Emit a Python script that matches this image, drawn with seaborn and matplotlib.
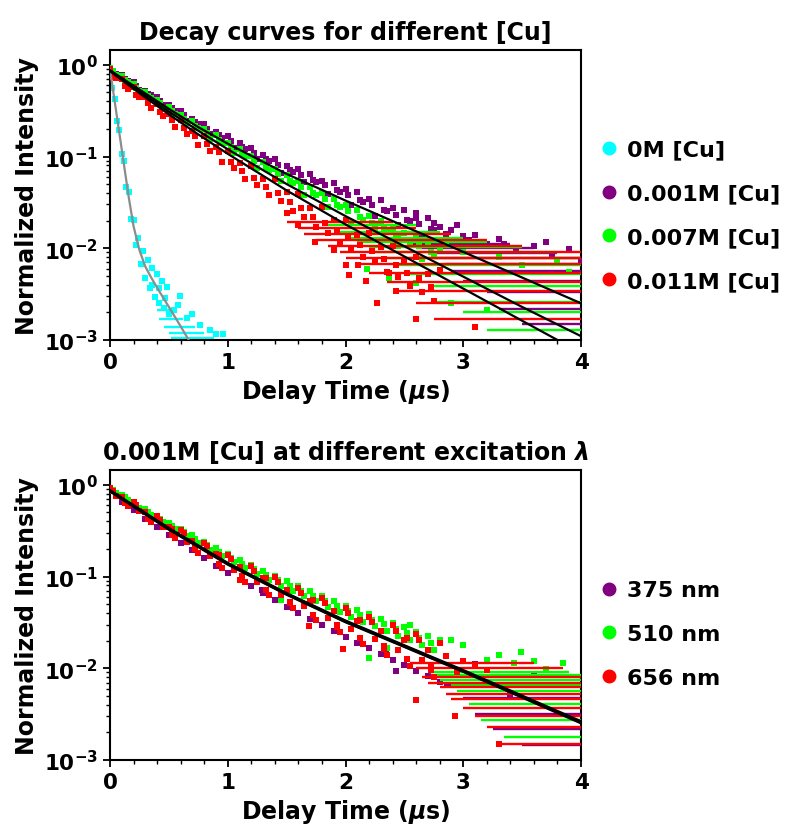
import matplotlib
matplotlib.use("Agg")
import matplotlib.pyplot as plt
import seaborn as sns
from matplotlib.lines import Line2D
from matplotlib.ticker import MultipleLocator, LogLocator, NullFormatter, FixedLocator, FixedFormatter

# ---------------- data ----------------
TIME_GRID = [0.00, 0.05, 0.10, 0.15, 0.20, 0.25, 0.30, 0.35, 0.40, 0.45, 0.50, 0.55, 0.60, 0.65,
             0.70, 0.75, 0.80, 0.85, 0.90, 0.95, 1.00, 1.05, 1.10, 1.15, 1.20, 1.25, 1.30, 1.35,
             1.40, 1.45, 1.50, 1.55, 1.60, 1.65, 1.70, 1.75, 1.80, 1.85, 1.90, 1.95, 2.00, 2.05,
             2.10, 2.15, 2.20, 2.25, 2.30, 2.35, 2.40, 2.45, 2.50, 2.55, 2.60, 2.65, 2.70, 2.75, 2.80]
MID_GRID = [0.025, 0.125, 0.225, 0.325, 0.425, 0.525, 0.625, 0.725, 0.825, 0.925, 1.025, 1.125,
            1.225, 1.325, 1.425, 1.525, 1.625, 1.725, 1.825, 1.925, 2.025, 2.125, 2.225, 2.325,
            2.425, 2.525, 2.625, 2.725]

# top panel: 0M [Cu]
CYAN_T = [0.00, 0.02, 0.04, 0.06, 0.08, 0.10, 0.12, 0.14, 0.16, 0.18, 0.20, 0.22, 0.24,
          0.26, 0.28, 0.30, 0.32, 0.34, 0.36, 0.38, 0.40, 0.42, 0.44, 0.46, 0.48, 0.50]
CYAN_I = [0.933, 0.556, 0.427, 0.243, 0.195, 0.106, 0.0891, 0.0462, 0.0407, 0.0207, 0.0204,
          0.0109, 0.0129, 0.00667, 0.00938, 0.00468, 0.00745, 0.00366, 0.00614, 0.00291,
          0.00525, 0.00256, 0.00443, 0.00221, 0.00382, 0.00191]
CYAN_X_T = [0.42, 0.54, 0.593, 0.65, 0.762, 0.85, 0.904, 0.96, 0.47, 0.58, 0.70, 0.36]
CYAN_X_I = [0.0037, 0.0021, 0.0030, 0.00174, 0.00147, 0.0013, 0.00117, 0.00117, 0.0029, 0.0024, 0.0019, 0.0040]
CYAN_LEVEL = [0.00105, 0.0012, 0.0014, 0.0017, 0.0021]
CYAN_START = [0.52, 0.50, 0.46, 0.42, 0.40]
CYAN_END = [0.88, 0.80, 0.72, 0.62, 0.56]

# top panel: 0.001M [Cu]
TOP_PURPLE = [0.912, 0.791, 0.769, 0.667, 0.649, 0.537, 0.522, 0.463, 0.451, 0.365, 0.363, 0.316,
              0.316, 0.245, 0.257, 0.224, 0.226, 0.177, 0.187, 0.161, 0.166, 0.125, 0.139, 0.121,
              0.125, 0.0944, 0.105, 0.0889, 0.0946, 0.0665, 0.0794, 0.0678, 0.0728, 0.0528, 0.0652,
              0.0531, 0.0545, 0.0386, 0.0511, 0.0406, 0.0437, 0.0296, 0.0411, 0.0321, 0.0345,
              0.0224, 0.0333, 0.0254, 0.0273, 0.0177, 0.0263, 0.0200, 0.0216, 0.0131, 0.0213,
              0.0158, 0.0171]
TOP_PURPLE_MID = [0.851, 0.706, 0.586, 0.486, 0.404, 0.336, 0.281, 0.236, 0.200, 0.171, 0.146,
                  0.126, 0.109, 0.0944, 0.0817, 0.0710, 0.0625, 0.0551, 0.0485, 0.0428, 0.0378,
                  0.0334, 0.0296, 0.0262, 0.0232, 0.0205, 0.0182, 0.0161]
TOP_PURPLE_X_T = [2.60, 2.75, 2.90, 2.95, 3.00, 3.10, 3.20, 3.30, 3.35, 3.45, 3.60, 3.70, 3.75, 3.90, 4.00, 2.85, 3.05]
TOP_PURPLE_X_I = [0.024, 0.019, 0.016, 0.018, 0.0135, 0.014, 0.0112, 0.0125, 0.0112, 0.0098, 0.0105,
                  0.0118, 0.0085, 0.0098, 0.0073, 0.0142, 0.0122]
TOP_PURPLE_LEVEL = [0.0111, 0.0100, 0.0089, 0.0078, 0.0067, 0.0056, 0.0044, 0.0033, 0.0022, 0.0015]
TOP_PURPLE_START = [2.55, 2.60, 2.70, 2.75, 2.85, 2.90, 3.00, 3.20, 3.30, 3.50]
TOP_PURPLE_END = [3.40, 3.60, 3.80, 4.00, 4.00, 4.00, 4.00, 4.00, 4.00, 4.00]

# top panel: 0.007M [Cu]
TOP_GREEN = [0.912, 0.783, 0.755, 0.649, 0.611, 0.513, 0.508, 0.439, 0.415, 0.334, 0.347, 0.294,
             0.286, 0.231, 0.241, 0.204, 0.200, 0.155, 0.170, 0.141, 0.141, 0.110, 0.121, 0.101,
             0.102, 0.0741, 0.0875, 0.0714, 0.0735, 0.0547, 0.0631, 0.0519, 0.0537, 0.0376, 0.0468,
             0.0376, 0.0398, 0.0285, 0.0347, 0.0279, 0.0295, 0.0194, 0.0259, 0.0205, 0.0223,
             0.0153, 0.0196, 0.0155, 0.0168, 0.0105, 0.0148, 0.0114, 0.0130, 0.0076, 0.0112,
             0.00861, 0.00982]
TOP_GREEN_MID = [0.847, 0.690, 0.562, 0.461, 0.379, 0.313, 0.259, 0.215, 0.180, 0.151, 0.126,
                 0.107, 0.0904, 0.0764, 0.0646, 0.0547, 0.0469, 0.0402, 0.0344, 0.0295, 0.0254,
                 0.0219, 0.0190, 0.0164, 0.0142, 0.0123, 0.0106, 0.00918]
TOP_GREEN_X_T = [2.05, 2.18, 2.37, 2.60, 2.90, 3.20, 3.30, 3.50, 3.80, 3.90, 2.25, 2.45, 2.85, 3.00]
TOP_GREEN_X_I = [0.0095, 0.0060, 0.0047, 0.0042, 0.0025, 0.0021, 0.0080, 0.0065, 0.0072, 0.0055,
                 0.0175, 0.0135, 0.0110, 0.0092]
TOP_GREEN_LEVEL = [0.0178, 0.0152, 0.0130, 0.0117, 0.0104, 0.0091, 0.0078, 0.0065, 0.0052, 0.0039, 0.0026, 0.0020, 0.0013]
TOP_GREEN_START = [1.85, 1.95, 2.05, 2.10, 2.20, 2.25, 2.35, 2.45, 2.55, 2.70, 2.75, 3.00, 3.20]
TOP_GREEN_END = [2.60, 2.80, 3.00, 3.20, 3.50, 3.80, 4.00, 4.00, 4.00, 4.00, 4.00, 4.00, 4.00]

# top panel: 0.011M [Cu]
TOP_RED = [0.891, 0.711, 0.698, 0.545, 0.573, 0.447, 0.441, 0.337, 0.373, 0.279, 0.288, 0.212,
           0.252, 0.177, 0.192, 0.135, 0.169, 0.114, 0.127, 0.0875, 0.115, 0.0741, 0.0851, 0.0575,
           0.0794, 0.0490, 0.0575, 0.0380, 0.0562, 0.0324, 0.0407, 0.0253, 0.0394, 0.0218, 0.0277,
           0.0172, 0.0281, 0.0148, 0.0201, 0.0117, 0.0204, 0.0101, 0.0138, 0.00804, 0.0148,
           0.00700, 0.0102, 0.00556, 0.0107, 0.00484, 0.00708, 0.00385, 0.00794, 0.00335,
           0.00525, 0.00266, 0.00575]
TOP_RED_X_T = [1.025, 1.125, 1.225, 1.325, 1.425, 1.525, 1.625, 1.725, 1.825, 1.925, 2.025, 2.125,
               2.225, 2.325, 2.425, 2.525, 2.625, 2.725, 1.50, 1.60, 1.74, 1.90, 2.00, 2.03, 2.11,
               2.17, 2.27, 2.37, 2.43, 2.60, 3.10,
               0.025, 0.125, 0.225, 0.325, 0.425, 0.525, 0.625, 0.725, 0.825, 0.925]
TOP_RED_X_I = [0.0871, 0.0692, 0.0589, 0.0468, 0.0398, 0.0317, 0.0274, 0.0220, 0.0190, 0.0153,
               0.0132, 0.0108, 0.00938, 0.00762, 0.00664, 0.00540, 0.00470, 0.00382, 0.024, 0.018,
               0.0118, 0.0095, 0.0066, 0.0051, 0.0066, 0.0044, 0.0025, 0.0054, 0.0034, 0.0017, 0.0014,
               0.735, 0.589, 0.472, 0.381, 0.308, 0.250, 0.204, 0.167, 0.137, 0.113]
TOP_RED_LEVEL = [0.0195, 0.0165, 0.0142, 0.0123, 0.0107, 0.0092, 0.0079, 0.0067, 0.0054, 0.0043, 0.0034, 0.0025, 0.0017]
TOP_RED_START = [1.50, 1.60, 1.65, 1.75, 1.85, 1.95, 2.00, 2.10, 2.20, 2.35, 2.45, 2.60, 2.75]
TOP_RED_END = [2.40, 2.60, 2.90, 3.20, 3.50, 4.00, 4.00, 4.00, 4.00, 4.00, 4.00, 4.00, 4.00]

# fitted curves (top)
CYAN_FIT_T = [0.0, 0.04, 0.08, 0.12, 0.16, 0.20, 0.25, 0.30, 0.35, 0.40, 0.50, 0.60, 0.70]
CYAN_FIT_I = [0.891, 0.398, 0.178, 0.0794, 0.0355, 0.0174, 0.00955, 0.00631, 0.00479, 0.00372,
              0.00229, 0.00141, 0.000851]
FIT_T = [0.0, 0.25, 0.5, 0.75, 1.0, 1.5, 2.0, 2.5, 3.0, 3.5, 4.0]
FIT_PURPLE = [0.871, 0.537, 0.331, 0.209, 0.138, 0.0646, 0.0331, 0.0174, 0.00912, 0.00479, 0.00251]
FIT_GREEN = [0.871, 0.513, 0.309, 0.191, 0.120, 0.0501, 0.0224, 0.0105, 0.00490, 0.00229, 0.00110]
FIT_RED = [0.851, 0.490, 0.288, 0.174, 0.107, 0.0427, 0.0182, 0.00813, 0.00363, 0.00162, 0.000724]

# bottom panel: 375 nm
BOT_PURPLE_T = [0.1, 0.2, 0.3, 0.4, 0.5, 0.6, 0.7, 0.8, 0.9, 1.0, 1.1, 1.2, 1.3, 1.4, 1.5, 1.6,
                1.7, 1.8, 1.9, 2.0, 2.1, 2.2, 2.3, 2.4, 2.5, 2.6, 2.7, 2.8,
                1.29, 2.34, 2.43, 2.86, 3.40, 3.10, 3.60]
BOT_PURPLE_I = [0.649, 0.530, 0.428, 0.349, 0.282, 0.234, 0.194, 0.159, 0.132, 0.110, 0.0920,
                0.0782, 0.0656, 0.0557, 0.0468, 0.0403, 0.0347, 0.0295, 0.0254, 0.0219, 0.0189,
                0.0165, 0.0144, 0.0124, 0.0108, 0.00946, 0.00817, 0.00713,
                0.071, 0.0152, 0.0093, 0.0066, 0.0052, 0.0110, 0.0085]
BOT_PURPLE_LEVEL = [0.0066, 0.0047, 0.0032, 0.0022, 0.00145]
BOT_PURPLE_START = [2.85, 3.00, 3.10, 3.25, 3.50]
BOT_PURPLE_END = [4.00, 4.00, 4.00, 4.00, 4.00]

# bottom panel: 510 nm
BOT_GREEN = [0.933, 0.813, 0.782, 0.676, 0.656, 0.562, 0.551, 0.468, 0.462, 0.389, 0.388, 0.327,
             0.331, 0.276, 0.282, 0.233, 0.241, 0.197, 0.206, 0.167, 0.175, 0.143, 0.153, 0.123,
             0.133, 0.107, 0.116, 0.0923, 0.102, 0.0798, 0.0887, 0.0695, 0.0785, 0.0610, 0.0695,
             0.0535, 0.0615, 0.0469, 0.0545, 0.0411, 0.0482, 0.0363, 0.0432, 0.0323, 0.0387,
             0.0287, 0.0348, 0.0255, 0.0312, 0.0227, 0.0280, 0.0202, 0.0251, 0.0179, 0.0225,
             0.0160, 0.0202]
BOT_GREEN_MID = [0.873, 0.729, 0.610, 0.509, 0.426, 0.357, 0.303, 0.258, 0.219, 0.186, 0.159,
                 0.138, 0.120, 0.104, 0.0906, 0.0791, 0.0697, 0.0614, 0.0542, 0.0478, 0.0422,
                 0.0377, 0.0337, 0.0301, 0.0269, 0.0240, 0.0214, 0.0191]
BOT_GREEN_X_T = [2.20, 2.55, 3.00, 3.20, 3.43, 3.49, 3.60, 3.85, 3.70, 2.90, 3.30, 1.45, 2.35]
BOT_GREEN_X_I = [0.0129, 0.0295, 0.0179, 0.0122, 0.0113, 0.0152, 0.0120, 0.0113, 0.0098, 0.0205,
                 0.0140, 0.056, 0.0165]
BOT_GREEN_LEVEL = [0.0092, 0.0085, 0.0075, 0.0066, 0.0057, 0.0041, 0.0027, 0.0018]
BOT_GREEN_START = [2.70, 2.75, 2.80, 2.90, 2.95, 3.05, 3.15, 3.35]
BOT_GREEN_END = [3.90, 4.00, 4.00, 4.00, 4.00, 4.00, 4.00, 4.00]

# bottom panel: 656 nm
BOT_RED = [0.923, 0.760, 0.733, 0.590, 0.647, 0.514, 0.505, 0.392, 0.454, 0.348, 0.348, 0.262,
           0.324, 0.241, 0.247, 0.180, 0.234, 0.168, 0.176, 0.123, 0.170, 0.119, 0.128, 0.0875,
           0.129, 0.0867, 0.0955, 0.0628, 0.0977, 0.0634, 0.0711, 0.0454, 0.0752, 0.0473, 0.0545,
           0.0335, 0.0586, 0.0356, 0.0417, 0.0247, 0.0457, 0.0269, 0.0324, 0.0186, 0.0366,
           0.0207, 0.0255, 0.0141, 0.0294, 0.0160, 0.0201, 0.0107, 0.0236, 0.0124, 0.0158,
           0.00813, 0.0189]
BOT_RED_MID = [0.863, 0.638, 0.600, 0.427, 0.418, 0.287, 0.296, 0.199, 0.213, 0.137, 0.154,
               0.0975, 0.116, 0.0705, 0.0871, 0.0513, 0.0667, 0.0382, 0.0516, 0.0284, 0.0400,
               0.0215, 0.0318, 0.0164, 0.0253, 0.0126, 0.0201, 0.00962]
BOT_RED_X_T = [0.525, 0.725, 0.925, 1.125, 1.325, 1.525, 1.725, 1.925, 2.125, 2.325, 2.525, 2.725,
               1.10, 1.69, 1.98, 2.60, 2.93, 3.30, 2.85, 3.00, 2.95, 3.10, 3.20]
BOT_RED_X_I = [0.332, 0.208, 0.173, 0.102, 0.0966, 0.0531, 0.0556, 0.0299, 0.0333, 0.0175, 0.0212,
               0.0104, 0.091, 0.0287, 0.0162, 0.0045, 0.0030, 0.0015, 0.0135, 0.0120, 0.0092,
               0.0108, 0.0095]
BOT_RED_LEVEL = [0.0113, 0.0100, 0.0081, 0.0070, 0.0062, 0.0052, 0.0046, 0.0037, 0.0030, 0.0023, 0.0015]
BOT_RED_START = [2.55, 2.60, 2.65, 2.70, 2.80, 2.85, 2.90, 3.00, 3.10, 3.20, 3.30]
BOT_RED_END = [3.60, 3.85, 4.00, 4.00, 4.00, 4.00, 4.00, 4.00, 4.00, 4.00, 4.00]

# fitted curves (bottom)
BOT_FIT_375 = [0.861, 0.533, 0.331, 0.214, 0.138, 0.0646, 0.0324, 0.0174, 0.00933, 0.00490, 0.00257]
BOT_FIT_510 = [0.870, 0.540, 0.336, 0.217, 0.140, 0.0655, 0.0329, 0.0177, 0.00950, 0.00500, 0.00263]
BOT_FIT_656 = [0.855, 0.528, 0.327, 0.211, 0.136, 0.0638, 0.0320, 0.0172, 0.00921, 0.00483, 0.00253]

TOP_LABELS = ["0M [Cu]", "0.001M [Cu]", "0.007M [Cu]", "0.011M [Cu]"]
BOT_LABELS = ["375 nm", "510 nm", "656 nm"]
TOP_TITLE = "Decay curves for different [Cu]"
BOT_TITLE = r"0.001M [Cu] at different excitation $\lambda$"
X_LABEL = r"Delay Time ($\mu$s)"
Y_LABEL = "Normalized Intensity"
X_TICKS = [0, 1, 2, 3, 4]
Y_TICKS = [1e-3, 1e-2, 1e-1, 1e0]
Y_TICK_LABELS = [r"$\mathbf{10^{-3}}$", r"$\mathbf{10^{-2}}$", r"$\mathbf{10^{-1}}$", r"$\mathbf{10^{0}}$"]

# ---------------- style ----------------
sns.set_style("ticks")
plt.rcParams.update({
    "font.family": ["DejaVu Sans"],
    "font.weight": "bold",
    "axes.labelweight": "bold",
    "axes.titleweight": "bold",
    "mathtext.fontset": "custom",
    "mathtext.rm": "DejaVu Sans:bold",
    "mathtext.it": "DejaVu Sans:italic:bold",
    "mathtext.bf": "DejaVu Sans:bold",
    "axes.edgecolor": "black",
    "axes.linewidth": 1.5,
    "text.color": "black",
    "axes.labelcolor": "black",
    "axes.titlecolor": "black",
    "xtick.color": "black",
    "ytick.color": "black",
    "xtick.labelcolor": "black",
    "ytick.labelcolor": "black",
})

CYAN = "#00ffff"
PURPLE = "#800080"
GREEN = "#00ff00"
RED = "#ff0000"
FS = 17
LEG_FS = 16
TICK_FS = 15.5
PT_SIZE = 22

fig = plt.figure(figsize=(7.89, 8.29), dpi=100)
ax1 = fig.add_axes([0.1394, 0.5887, 0.5970, 0.3498])
ax2 = fig.add_axes([0.1394, 0.0820, 0.5970, 0.3498])
for ax in (ax1, ax2):
    ax.set_yscale("log")


def points(ax, t, i, color, z):
    sns.scatterplot(x=t, y=i, color=color, s=PT_SIZE, marker="s", linewidth=0,
                    ax=ax, zorder=z, legend=False)


def streaks(ax, lev, start, end, color, z):
    ax.hlines(lev, start, end, colors=color, linewidth=1.7, zorder=z)


def fit(ax, t, i, color, lw):
    sns.lineplot(x=t, y=i, color=color, linewidth=lw, ax=ax, zorder=8,
                 estimator=None, sort=False)


# top panel
points(ax1, CYAN_T, CYAN_I, CYAN, 2)
points(ax1, CYAN_X_T, CYAN_X_I, CYAN, 2)
streaks(ax1, CYAN_LEVEL, CYAN_START, CYAN_END, CYAN, 2)
points(ax1, TIME_GRID, TOP_PURPLE, PURPLE, 3)
points(ax1, MID_GRID, TOP_PURPLE_MID, PURPLE, 3)
points(ax1, TOP_PURPLE_X_T, TOP_PURPLE_X_I, PURPLE, 3)
streaks(ax1, TOP_PURPLE_LEVEL, TOP_PURPLE_START, TOP_PURPLE_END, PURPLE, 3)
points(ax1, TIME_GRID, TOP_GREEN, GREEN, 4)
points(ax1, MID_GRID, TOP_GREEN_MID, GREEN, 4)
points(ax1, TOP_GREEN_X_T, TOP_GREEN_X_I, GREEN, 4)
streaks(ax1, TOP_GREEN_LEVEL, TOP_GREEN_START, TOP_GREEN_END, GREEN, 4)
points(ax1, TIME_GRID, TOP_RED, RED, 5)
points(ax1, TOP_RED_X_T, TOP_RED_X_I, RED, 5)
streaks(ax1, TOP_RED_LEVEL, TOP_RED_START, TOP_RED_END, RED, 5)
fit(ax1, CYAN_FIT_T, CYAN_FIT_I, "#8c8c8c", 1.6)
fit(ax1, FIT_T, FIT_PURPLE, "black", 1.6)
fit(ax1, FIT_T, FIT_GREEN, "black", 1.6)
fit(ax1, FIT_T, FIT_RED, "black", 1.6)

# bottom panel
points(ax2, BOT_PURPLE_T, BOT_PURPLE_I, PURPLE, 3)
streaks(ax2, BOT_PURPLE_LEVEL, BOT_PURPLE_START, BOT_PURPLE_END, PURPLE, 3)
points(ax2, TIME_GRID, BOT_GREEN, GREEN, 4)
points(ax2, MID_GRID, BOT_GREEN_MID, GREEN, 4)
points(ax2, BOT_GREEN_X_T, BOT_GREEN_X_I, GREEN, 4)
streaks(ax2, BOT_GREEN_LEVEL, BOT_GREEN_START, BOT_GREEN_END, GREEN, 4)
points(ax2, TIME_GRID, BOT_RED, RED, 5)
points(ax2, MID_GRID, BOT_RED_MID, RED, 5)
points(ax2, BOT_RED_X_T, BOT_RED_X_I, RED, 5)
streaks(ax2, BOT_RED_LEVEL, BOT_RED_START, BOT_RED_END, RED, 5)
fit(ax2, FIT_T, BOT_FIT_375, "black", 2.0)
fit(ax2, FIT_T, BOT_FIT_510, "black", 2.0)
fit(ax2, FIT_T, BOT_FIT_656, "black", 2.0)

for ax, title, labels, colors, anchor in (
        (ax1, TOP_TITLE, TOP_LABELS, [CYAN, PURPLE, GREEN, RED], 0.43),
        (ax2, BOT_TITLE, BOT_LABELS, [PURPLE, GREEN, RED], 0.434)):
    ax.set_xlim(0, 4)
    ax.set_ylim(1e-3, 1.45)
    ax.set_title(title, fontsize=FS, fontweight="bold", pad=8, color="black")
    ax.set_xlabel(X_LABEL, fontsize=FS, fontweight="bold", color="black")
    ax.set_ylabel(Y_LABEL, fontsize=FS, fontweight="bold", color="black")
    ax.xaxis.set_major_locator(FixedLocator(X_TICKS))
    ax.set_xticklabels([str(v) for v in X_TICKS])
    ax.xaxis.set_minor_locator(MultipleLocator(0.2))
    ax.yaxis.set_major_locator(FixedLocator(Y_TICKS))
    ax.yaxis.set_major_formatter(FixedFormatter(Y_TICK_LABELS))
    ax.yaxis.set_minor_locator(LogLocator(base=10, subs=[2, 3, 4, 5, 6, 7, 8, 9]))
    ax.yaxis.set_minor_formatter(NullFormatter())
    ax.tick_params(which="major", direction="out", length=5, width=1.3, labelsize=TICK_FS,
                   top=False, right=False, colors="black")
    ax.tick_params(which="minor", direction="out", length=3, width=1.0, top=False, right=False,
                   colors="black")
    for lab in ax.get_xticklabels():
        lab.set_fontweight("bold")
    for sp in ax.spines.values():
        sp.set_visible(True)
        sp.set_color("black")
        sp.set_linewidth(1.5)
    handles = [Line2D([], [], marker="o", linestyle="", color=c, markersize=9) for c in colors]
    leg = ax.legend(handles, labels, loc="center left", bbox_to_anchor=(1.0, anchor), frameon=False,
                    prop={"weight": "bold", "size": LEG_FS}, handlelength=0.75,
                    handletextpad=0.4, borderaxespad=0.5, labelspacing=1.07)
    for txt in leg.get_texts():
        txt.set_color("black")

fig.savefig("out.png", dpi=100)
